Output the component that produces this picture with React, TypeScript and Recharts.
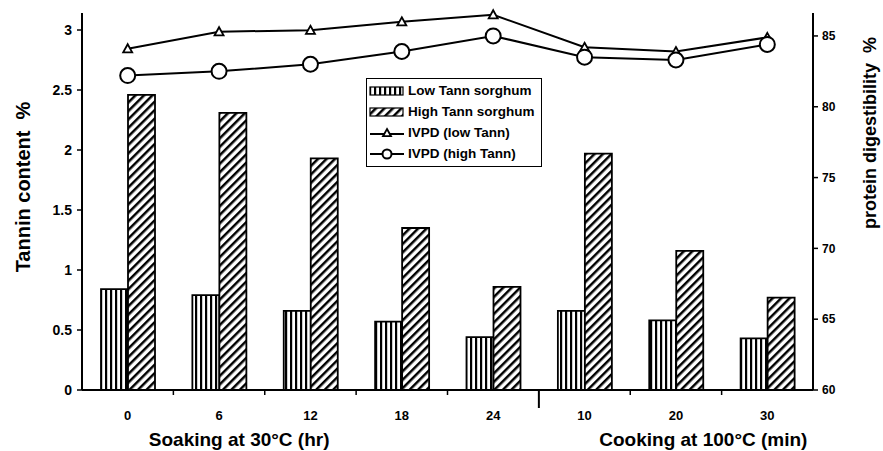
import { Bar, ComposedChart, Label, Legend, Line, XAxis, YAxis } from "recharts"

// treatments: soaking hours (first 5), then cooking minutes (last 3)
const categories = ["0", "6", "12", "18", "24", "10", "20", "30"]
const lowTannSorghum = [0.84, 0.79, 0.66, 0.57, 0.44, 0.66, 0.58, 0.43]
const highTannSorghum = [2.46, 2.31, 1.93, 1.35, 0.86, 1.97, 1.16, 0.77]
const ivpdLowTann = [84.1, 85.3, 85.4, 86.0, 86.5, 84.2, 83.9, 84.9]
const ivpdHighTann = [82.2, 82.5, 83.0, 83.9, 85.0, 83.5, 83.3, 84.4]

const tanninTicks = [0, 0.5, 1, 1.5, 2, 2.5, 3]
const digestTicks = [60, 65, 70, 75, 80, 85]
const soakingTitle = "Soaking at 30°C (hr)"
const cookingTitle = "Cooking at 100°C (min)"
const legendOrder = ["low", "high", "ivpdLow", "ivpdHigh"]

const FONT = '"Liberation Sans", Arial, sans-serif'

const data = categories.map((cat, i) => ({
  cat,
  low: lowTannSorghum[i],
  high: highTannSorghum[i],
  ivpdLow: ivpdLowTann[i],
  ivpdHigh: ivpdHighTann[i],
}))

function TriangleDot({ cx, cy, size = 4.5 }: { cx?: number; cy?: number; size?: number }) {
  if (cx == null || cy == null) return null
  const s = size
  return (
    <path
      d={`M${cx},${cy - s}L${cx + s},${cy + s * 0.8}L${cx - s},${cy + s * 0.8}Z`}
      fill="#fff"
      stroke="#000"
      strokeWidth={1.8}
    />
  )
}

// recharts passes its own `r` to dots, so the marker size goes in `radius`
function CircleDot({ cx, cy, radius = 7.5 }: { cx?: number; cy?: number; radius?: number }) {
  if (cx == null || cy == null) return null
  return <circle cx={cx} cy={cy} r={radius} fill="#fff" stroke="#000" strokeWidth={2} />
}

/** Category label under each group, plus a tick on the boundary to its right. */
function CategoryTick(props: any) {
  const { x, y, payload, index } = props
  const half = payload?.offset ?? 45.7
  const isLast = index === categories.length - 1
  const isSplit = index === 4
  return (
    <g>
      {!isLast && (
        <line
          x1={x + half}
          x2={x + half}
          y1={y}
          y2={y + (isSplit ? 18 : 5)}
          stroke="#000"
          strokeWidth={isSplit ? 2 : 1.5}
        />
      )}
      <text
        x={x}
        y={y + 30}
        textAnchor="middle"
        fontFamily={FONT}
        fontWeight={700}
        fontSize={13}
        fill="#000"
      >
        {payload.value}
      </text>
    </g>
  )
}

function LegendBox({ payload }: { payload?: Array<{ value: string; dataKey?: unknown }> }) {
  if (!payload?.length) return null
  const items = [...payload].sort(
    (a, b) => legendOrder.indexOf(String(a.dataKey)) - legendOrder.indexOf(String(b.dataKey)),
  )
  return (
    <div
      style={{
        border: "1.5px solid #000",
        background: "#fff",
        padding: "1px 6px 2px 2px",
        fontFamily: FONT,
        fontWeight: 700,
        fontSize: 13.5,
        lineHeight: "21px",
      }}
    >
      {items.map((p) => (
        <div key={String(p.dataKey)} style={{ display: "flex", alignItems: "center", whiteSpace: "nowrap" }}>
          <svg width={36} height={14} style={{ marginRight: 3 }}>
            {p.dataKey === "low" && (
              <rect x={1} y={3} width={33} height={8} fill="url(#vstripe)" stroke="#000" strokeWidth={1.2} />
            )}
            {p.dataKey === "high" && (
              <rect x={1} y={3} width={33} height={8} fill="url(#diag)" stroke="#000" strokeWidth={1.2} />
            )}
            {p.dataKey === "ivpdLow" && (
              <>
                <line x1={1} x2={35} y1={8} y2={8} stroke="#000" strokeWidth={2} />
                <TriangleDot cx={18} cy={7} size={4} />
              </>
            )}
            {p.dataKey === "ivpdHigh" && (
              <>
                <line x1={1} x2={35} y1={7} y2={7} stroke="#000" strokeWidth={2} />
                <CircleDot cx={18} cy={7} radius={4.5} />
              </>
            )}
          </svg>
          <span>{p.value}</span>
        </div>
      ))}
    </div>
  )
}

export default function App() {
  return (
    <div style={{ position: "absolute", left: 0, top: 0, width: 883, height: 451, background: "#fff" }}>
      <ComposedChart
        width={883}
        height={451}
        data={data}
        margin={{ top: 13, right: 20, bottom: 31, left: 32 }}
        barGap={0}
        barSize={27}
      >
        <defs>
          <pattern id="vstripe" width={5} height={6} patternUnits="userSpaceOnUse">
            <rect width={5} height={6} fill="#fff" />
            <rect x={0} width={2.2} height={6} fill="#000" />
          </pattern>
          <pattern id="diag" width={6} height={6} patternUnits="userSpaceOnUse" patternTransform="rotate(45)">
            <rect width={6} height={6} fill="#fff" />
            <rect x={0} width={2.5} height={6} fill="#000" />
          </pattern>
        </defs>
        <XAxis
          dataKey="cat"
          height={30}
          axisLine={{ stroke: "#000", strokeWidth: 2 }}
          tickLine={false}
          tickSize={0}
          tickMargin={0}
          interval={0}
          tick={<CategoryTick />}
        >
          <Label
            content={(props: any) => {
              const vb = props.viewBox ?? { x: 82, y: 390, width: 731 }
              const band = vb.width / categories.length
              return (
                <g fontFamily={FONT} fontWeight={700} fontSize={19} fill="#000">
                  <text x={vb.x + band * 1.72} y={vb.y + 56} textAnchor="middle">
                    {soakingTitle}
                  </text>
                  <text x={vb.x + band * 6.8} y={vb.y + 56} textAnchor="middle">
                    {cookingTitle}
                  </text>
                </g>
              )
            }}
          />
        </XAxis>
        <YAxis
          yAxisId="left"
          width={50}
          domain={[0, 3.1417]}
          ticks={tanninTicks}
          axisLine={{ stroke: "#000", strokeWidth: 2 }}
          tickLine={{ stroke: "#000", strokeWidth: 1.5 }}
          tickSize={5}
          tickMargin={5}
          tick={{ fontFamily: FONT, fontWeight: 700, fontSize: 14, fill: "#000" }}
        >
          <Label
            content={() => (
              <text
                transform="translate(30,187) rotate(-90)"
                textAnchor="middle"
                fontFamily={FONT}
                fontWeight={700}
                fontSize={20}
                fill="#000"
                style={{ whiteSpace: "pre" }}
              >
                {"Tannin content  %"}
              </text>
            )}
          />
        </YAxis>
        <YAxis
          yAxisId="right"
          orientation="right"
          width={50}
          domain={[60, 86.62]}
          ticks={digestTicks}
          axisLine={{ stroke: "#000", strokeWidth: 2 }}
          tickLine={{ stroke: "#000", strokeWidth: 1.5 }}
          tickSize={5}
          tickMargin={4}
          tick={{ fontFamily: FONT, fontWeight: 700, fontSize: 12, fill: "#000" }}
        >
          <Label
            content={() => (
              <text
                transform="translate(876,133) rotate(-90)"
                textAnchor="middle"
                fontFamily={FONT}
                fontWeight={700}
                fontSize={18}
                fill="#000"
                style={{ whiteSpace: "pre" }}
              >
                {"protein digestibility  %"}
              </text>
            )}
          />
        </YAxis>
        <Legend
          content={<LegendBox />}
          layout="horizontal"
          verticalAlign="middle"
          align="center"
          wrapperStyle={{ position: "absolute", left: 366, top: 78, width: "auto", height: "auto" }}
        />
        <Bar
          yAxisId="left"
          dataKey="low"
          name="Low Tann sorghum"
          fill="url(#vstripe)"
          stroke="#000"
          strokeWidth={1.8}
          isAnimationActive={false}
        />
        <Bar
          yAxisId="left"
          dataKey="high"
          name="High Tann sorghum"
          fill="url(#diag)"
          stroke="#000"
          strokeWidth={1.8}
          isAnimationActive={false}
        />
        <Line
          yAxisId="right"
          dataKey="ivpdLow"
          name="IVPD (low Tann)"
          type="linear"
          stroke="#000"
          strokeWidth={2}
          dot={<TriangleDot />}
          activeDot={false}
          isAnimationActive={false}
        />
        <Line
          yAxisId="right"
          dataKey="ivpdHigh"
          name="IVPD (high Tann)"
          type="linear"
          stroke="#000"
          strokeWidth={2}
          dot={<CircleDot />}
          activeDot={false}
          isAnimationActive={false}
        />
      </ComposedChart>
    </div>
  )
}
